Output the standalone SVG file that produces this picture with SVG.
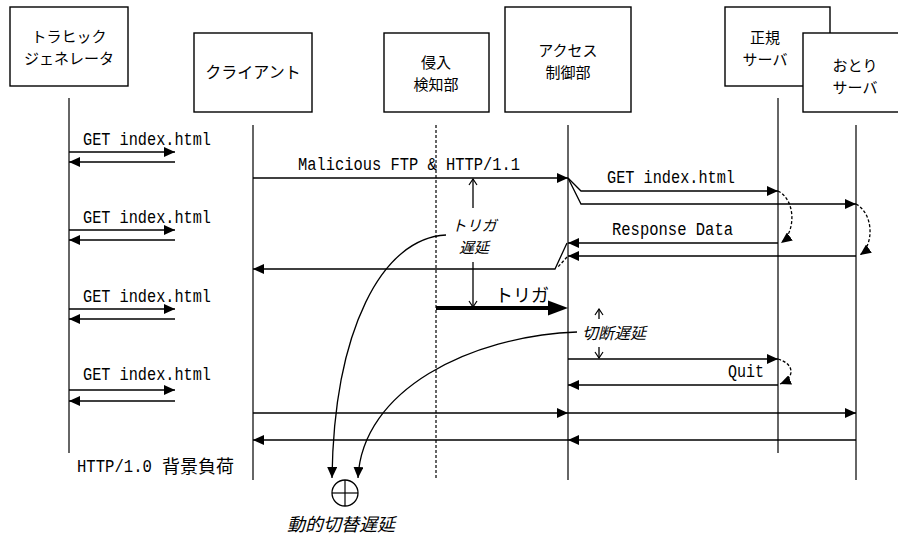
<svg xmlns="http://www.w3.org/2000/svg" width="898" height="536" viewBox="0 0 898 536">
<style>
.box{fill:#fff;stroke:#000;stroke-width:1.4}
.life{stroke:#333;stroke-width:1.5;fill:none}
.ln{stroke:#000;stroke-width:1.3;fill:none}
.dash{stroke:#000;stroke-width:1.3;fill:none;stroke-dasharray:3,2}
.jp{font-family:"Noto Sans CJK JP","Noto Sans CJK SC",sans-serif;font-size:15px;text-anchor:middle;fill:#000}
.mono{font-family:"Liberation Mono","DejaVu Sans Mono",monospace;font-size:19px;fill:#000}
.it{font-style:italic}
</style>
<defs>
<marker id="ah" viewBox="0 0 11 10" refX="11" refY="5" markerWidth="11" markerHeight="10" markerUnits="userSpaceOnUse" orient="auto"><path d="M0,0 L11,5 L0,10 z" fill="#000"/></marker>
<marker id="oa" viewBox="0 0 8 10" refX="7" refY="5" markerWidth="8" markerHeight="10" markerUnits="userSpaceOnUse" orient="auto"><path d="M1,1 L7,5 L1,9" fill="none" stroke="#000" stroke-width="1.2"/></marker>
</defs>

<g id="traffic-generator">
<rect class="box" x="10" y="7" width="118" height="79"/>
<text class="jp" x="69" y="42">トラヒック</text>
<text class="jp" x="69" y="64">ジェネレータ</text>
<line class="life" x1="69" y1="98" x2="69" y2="453"/>
</g>
<g id="client">
<rect class="box" x="194" y="33" width="118" height="79"/>
<text class="jp" x="253" y="78" style="font-size:16px">クライアント</text>
<line class="life" x1="253" y1="125" x2="253" y2="480"/>
</g>
<g id="ids">
<rect class="box" x="384" y="33" width="105" height="79"/>
<text class="jp" x="436" y="68">侵入</text>
<text class="jp" x="436" y="90">検知部</text>
<line class="life" x1="436" y1="125" x2="436" y2="478" stroke-dasharray="3,2" stroke-width="1.2"/>
</g>
<g id="access-control">
<rect class="box" x="505" y="7" width="126" height="105"/>
<text class="jp" x="568" y="56">アクセス</text>
<text class="jp" x="568" y="78">制御部</text>
<line class="life" x1="568" y1="125" x2="568" y2="480"/>
</g>
<g id="real-server">
<rect class="box" x="725" y="7" width="105" height="79"/>
<text class="jp" x="765" y="43">正規</text>
<text class="jp" x="765" y="65">サーバ</text>
<line class="life" x1="778" y1="98" x2="778" y2="453"/>
</g>
<g id="decoy-server">
<rect class="box" x="803" y="33" width="100" height="79"/>
<text class="jp" x="855" y="71">おとり</text>
<text class="jp" x="855" y="93">サーバ</text>
<line class="life" x1="856" y1="125" x2="856" y2="480"/>
</g>

<g id="connectors">
<path class="ln" d="M69,152 L175,152" marker-end="url(#ah)"/>
<path class="ln" d="M175,162 L69,162" marker-end="url(#ah)"/>
<path class="ln" d="M69,230 L175,230" marker-end="url(#ah)"/>
<path class="ln" d="M175,240 L69,240" marker-end="url(#ah)"/>
<path class="ln" d="M69,309 L175,309" marker-end="url(#ah)"/>
<path class="ln" d="M175,319 L69,319" marker-end="url(#ah)"/>
<path class="ln" d="M69,390 L175,390" marker-end="url(#ah)"/>
<path class="ln" d="M175,401 L69,401" marker-end="url(#ah)"/>

<path class="ln" d="M253,178 L568,178" marker-end="url(#ah)"/>
<path class="ln" d="M568,178 L581,191 L778,191" marker-end="url(#ah)"/>
<path class="ln" d="M568,178 L581,204 L856,204" marker-end="url(#ah)"/>
<path class="dash" d="M778,191 C796,200 796,232 781,243" marker-end="url(#ah)"/>
<path class="dash" d="M856,204 C874,214 874,245 860,255" marker-end="url(#ah)"/>
<path class="ln" d="M778,243 L568,243" marker-end="url(#ah)"/>
<path class="ln" d="M856,256 L568,256" marker-end="url(#ah)"/>
<path class="ln" d="M567,243 L555,269 L253,269" marker-end="url(#ah)"/>
<path class="dash" d="M567,257 L558,267"/>

<path class="ln" d="M473,208 L473,179" marker-end="url(#oa)"/>
<path class="ln" d="M473,262 L473,307" marker-end="url(#oa)"/>
<line x1="436" y1="308" x2="552" y2="308" stroke="#000" stroke-width="4"/>
<polygon points="548,300.5 568,308 548,315.5" fill="#000"/>

<path class="ln" d="M599,319 L599,309" marker-end="url(#oa)"/>
<path class="ln" d="M599,347 L599,358" marker-end="url(#oa)"/>
<path class="ln" d="M568,359 L778,359" marker-end="url(#ah)"/>
<path class="dash" d="M778,359 C795,364 795,378 780,384" marker-end="url(#ah)"/>
<path class="ln" d="M778,385 L568,385" marker-end="url(#ah)"/>

<path class="ln" d="M253,413 L568,413" marker-end="url(#ah)"/>
<path class="ln" d="M568,413 L856,413" marker-end="url(#ah)"/>
<path class="ln" d="M856,440 L568,440" marker-end="url(#ah)"/>
<path class="ln" d="M568,440 L253,440" marker-end="url(#ah)"/>

<path class="ln" d="M446,235 C382,238 334,330 332,478" marker-end="url(#ah)"/>
<path class="ln" d="M577,332 C470,336 362,390 358,478" marker-end="url(#ah)"/>
</g>

<g id="sum">
<circle cx="345" cy="493" r="13" fill="#fff" stroke="#000" stroke-width="1.3"/>
<line x1="332" y1="493" x2="358" y2="493" stroke="#000" stroke-width="1.2"/>
<line x1="345" y1="480" x2="345" y2="506" stroke="#000" stroke-width="1.2"/>
</g>

<g id="labels">
<text class="mono" x="83" y="145" textLength="128" lengthAdjust="spacingAndGlyphs">GET index.html</text>
<text class="mono" x="83" y="223" textLength="128" lengthAdjust="spacingAndGlyphs">GET index.html</text>
<text class="mono" x="83" y="302" textLength="128" lengthAdjust="spacingAndGlyphs">GET index.html</text>
<text class="mono" x="83" y="380" textLength="128" lengthAdjust="spacingAndGlyphs">GET index.html</text>
<text class="mono" x="298" y="170" textLength="222" lengthAdjust="spacingAndGlyphs">Malicious FTP &amp; HTTP/1.1</text>
<text class="mono" x="607" y="183" textLength="128" lengthAdjust="spacingAndGlyphs">GET index.html</text>
<text class="mono" x="612" y="235" textLength="121" lengthAdjust="spacingAndGlyphs">Response Data</text>
<text class="mono" x="728" y="377" textLength="36" lengthAdjust="spacingAndGlyphs">Quit</text>
<text class="mono" x="77" y="472" textLength="75" lengthAdjust="spacingAndGlyphs">HTTP/1.0</text>
<text class="jp" x="162" y="473" style="font-size:18px;text-anchor:start">背景負荷</text>
<text class="jp it" x="474" y="231">トリガ</text>
<text class="jp it" x="474" y="253">遅延</text>
<text class="jp" x="495" y="302" style="font-size:18px;text-anchor:start">トリガ</text>
<text class="jp it" x="582" y="339" style="font-size:16px;text-anchor:start">切断遅延</text>
<text class="jp it" x="287" y="531" style="font-size:18px;text-anchor:start">動的切替遅延</text>
</g>
</svg>
